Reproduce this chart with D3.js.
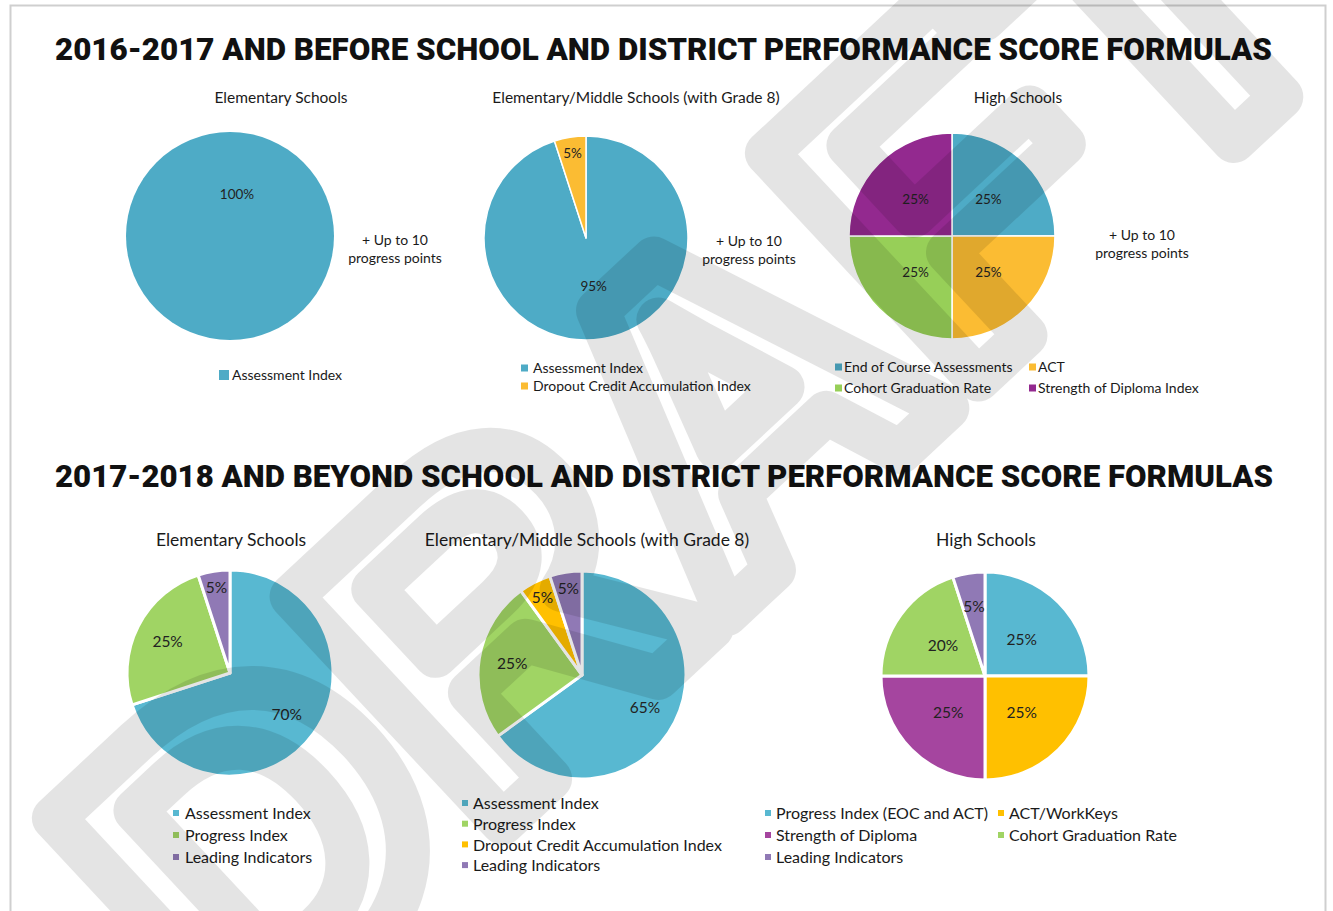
<!DOCTYPE html>
<html>
<head>
<meta charset="utf-8">
<title>School and District Performance Score Formulas</title>
<script src="https://d3js.org/d3.v7.min.js"></script>
<style>
  body { margin: 0; background: #fff; }
  svg { display: block; }
</style>
</head>
<body>
<script>
// headings
var headings = [
  "2016-2017 AND BEFORE SCHOOL AND DISTRICT PERFORMANCE SCORE FORMULAS",
  "2017-2018 AND BEYOND SCHOOL AND DISTRICT PERFORMANCE SCORE FORMULAS"
];
var chartTitles = [
  "Elementary Schools", "Elementary/Middle Schools (with Grade 8)", "High Schools",
  "Elementary Schools", "Elementary/Middle Schools (with Grade 8)", "High Schools"
];
var bonusNote = ["+ Up to 10", "progress points"];

// 2016-2017 and before
var oldElemLabels = ["Assessment Index"];
var oldElemValues = [100];
var oldMidLabels = ["Assessment Index", "Dropout Credit Accumulation Index"];
var oldMidValues = [95, 5];
var oldHighLabels = ["End of Course Assessments", "ACT", "Cohort Graduation Rate", "Strength of Diploma Index"];
var oldHighValues = [25, 25, 25, 25];

// 2017-2018 and beyond
var newElemLabels = ["Assessment Index", "Progress Index", "Leading Indicators"];
var newElemValues = [70, 25, 5];
var newMidLabels = ["Assessment Index", "Progress Index", "Dropout Credit Accumulation Index", "Leading Indicators"];
var newMidValues = [65, 25, 5, 5];
var newHighLabels = ["Progress Index (EOC and ACT)", "ACT/WorkKeys", "Strength of Diploma", "Cohort Graduation Rate", "Leading Indicators"];
var newHighValues = [25, 25, 25, 20, 5];

// colours
var oldColors = {
  "Assessment Index": "#4eabc6", "End of Course Assessments": "#4eabc6",
  "Dropout Credit Accumulation Index": "#fbbc33", "ACT": "#fbbc33",
  "Cohort Graduation Rate": "#97cf58", "Strength of Diploma Index": "#93298f"
};
var newColors = {
  "Assessment Index": "#58b8d1", "Progress Index (EOC and ACT)": "#58b8d1",
  "Progress Index": "#a0d464", "Cohort Graduation Rate": "#a0d464",
  "Dropout Credit Accumulation Index": "#ffc000", "ACT/WorkKeys": "#ffc000",
  "Leading Indicators": "#9079b5", "Strength of Diploma": "#a5459f"
};

var W = 1333, H = 911;
var svg = d3.select("body").append("svg").attr("width", W).attr("height", H);

// page frame
svg.append("rect").attr("x", 10.5).attr("y", 5.5).attr("width", 1315).attr("height", 920)
   .attr("fill", "none").attr("stroke", "#cfcfcf").attr("stroke-width", 2);

// headings
svg.selectAll("text.heading").data(headings).join("text")
   .attr("class", "heading")
   .attr("x", 55).attr("y", (d, i) => i ? 487 : 60)
   .attr("textLength", (d, i) => i ? 1218 : 1217)
   .attr("lengthAdjust", "spacingAndGlyphs")
   .style("font-family", "Roboto, 'Liberation Sans', sans-serif")
   .style("font-weight", 900).style("font-size", "31px").attr("fill", "#111")
   .text(d => d);

var charts = [
  {labels: oldElemLabels, values: oldElemValues, colors: oldColors, cx: 230, cy: 236, r: 104,
   titleX: 281, titleY: 103, fs: 15.5, lfs: 14, pfs: 13.5, gap: 1.5, bigF: 0.4, smallF: 0.84,
   note: {x: 395, y: 245}, legend: {x: 219, y: 376, sq: 10, col2: 0, dy: 18, tx: 13}},
  {labels: oldMidLabels, values: oldMidValues, colors: oldColors, cx: 586, cy: 238, r: 102,
   titleX: 636, titleY: 103, fs: 15.5, lfs: 14, pfs: 13.5, gap: 1.5, bigF: 0.48, smallF: 0.84,
   note: {x: 749, y: 246}, legend: {x: 521, y: 369, sq: 7, col2: 0, dy: 18, tx: 12}},
  {labels: oldHighLabels, values: oldHighValues, colors: oldColors, cx: 952, cy: 236, r: 103,
   titleX: 1018, titleY: 103, fs: 15.5, lfs: 14, pfs: 13.5, gap: 1.5, bigF: 0.5, smallF: 0.5,
   note: {x: 1142, y: 240}, legend: {x: 835, y: 368, sq: 7, col2: 194, dy: 21, tx: 9}},
  {labels: newElemLabels, values: newElemValues, colors: newColors, cx: 230, cy: 673, r: 103,
   titleX: 231, titleY: 546, fs: 17.5, lfs: 16, pfs: 15.5, gap: 3, bigF: 0.68, smallF: 0.84,
   legend: {x: 173, y: 814, sq: 6, col2: 0, dy: 22, tx: 12}},
  {labels: newMidLabels, values: newMidValues, colors: newColors, cx: 582, cy: 675, r: 104,
   titleX: 587, titleY: 546, fs: 17.5, lfs: 16, pfs: 15.5, gap: 3, bigF: 0.68, smallF: 0.84,
   legend: {x: 462, y: 804, sq: 6, col2: 0, dy: 20.7, tx: 11}},
  {labels: newHighLabels, values: newHighValues, colors: newColors, cx: 985, cy: 676, r: 104,
   titleX: 986, titleY: 546, fs: 17.5, lfs: 16, pfs: 15.5, gap: 3, bigF: 0.5, smallF: 0.68,
   legend: {x: 765, y: 814, sq: 6, col2: 233, dy: 22, tx: 11}}
];

var font = "Lato, 'Open Sans', sans-serif";
var pie = d3.pie().sort(null).value(d => d.value);

charts.forEach(function (c, ci) {
  var g = svg.append("g");

  g.append("text").attr("x", c.titleX).attr("y", c.titleY)
   .attr("text-anchor", "middle").style("font-family", font).style("font-size", c.fs + "px")
   .attr("fill", "#1a1a1a").text(chartTitles[ci]);

  var rows = c.labels.map((l, i) => ({label: l, value: c.values[i]}));
  var arcs = pie(rows);
  var arc = d3.arc().innerRadius(0).outerRadius(c.r);

  var pg = g.append("g").attr("transform", `translate(${c.cx},${c.cy})`);
  pg.selectAll("path").data(arcs).join("path")
    .attr("d", arc)
    .attr("fill", d => c.colors[d.data.label])
    .attr("stroke", arcs.length > 1 ? "#fff" : "none")
    .attr("stroke-width", c.gap)
    .attr("stroke-linejoin", "round");

  pg.selectAll("text").data(arcs).join("text")
    .attr("transform", function (d) {
      var f = d.data.value <= 5 ? c.smallF : c.bigF;
      var lr = c.r * f;
      if (d.endAngle - d.startAngle > 2 * Math.PI - 1e-6) return `translate(7,${-lr})`;
      var p = d3.arc().innerRadius(lr).outerRadius(lr).centroid(d);
      return `translate(${p[0]},${p[1]})`;
    })
    .attr("text-anchor", "middle").attr("dy", "0.35em")
    .style("font-family", font).style("font-size", c.pfs + "px").attr("fill", "#222")
    .text(d => d.data.value + "%");

  if (c.note) {
    g.append("text").attr("x", c.note.x).attr("y", c.note.y)
     .attr("text-anchor", "middle").style("font-family", font).style("font-size", "14px")
     .attr("fill", "#1a1a1a")
     .selectAll("tspan").data(bonusNote).join("tspan")
     .attr("x", c.note.x).attr("dy", (d, i) => i ? 18 : 0).text(d => d);
  }

  var L = c.legend;
  var cols = L.col2 ? 2 : 1;
  var lg = g.append("g");
  var item = lg.selectAll("g").data(rows).join("g")
    .attr("transform", (d, i) => `translate(${L.x + (i % cols) * L.col2},${L.y + Math.floor(i / cols) * L.dy})`);
  item.append("rect").attr("x", 0).attr("y", -L.sq / 2 - 1).attr("width", L.sq).attr("height", L.sq)
    .attr("fill", d => c.colors[d.label]);
  item.append("text").attr("x", L.tx).attr("dy", "0.32em")
    .style("font-family", font).style("font-size", c.lfs + "px").attr("fill", "#1a1a1a")
    .text(d => d.label);
});

// watermark (hollow letters, very large)
var wm = svg.append("g").attr("opacity", 0.1)
  .attr("transform", "translate(243,1065) rotate(-43)");
wm.append("text")
  .style("font-family", "'Liberation Sans', sans-serif").style("font-weight", "bold")
  .style("font-size", "450px")
  .attr("fill", "none").attr("stroke", "#000").attr("stroke-width", 44)
  .attr("stroke-linejoin", "round")
  .text("DRAFT");
</script>
</body>
</html>
